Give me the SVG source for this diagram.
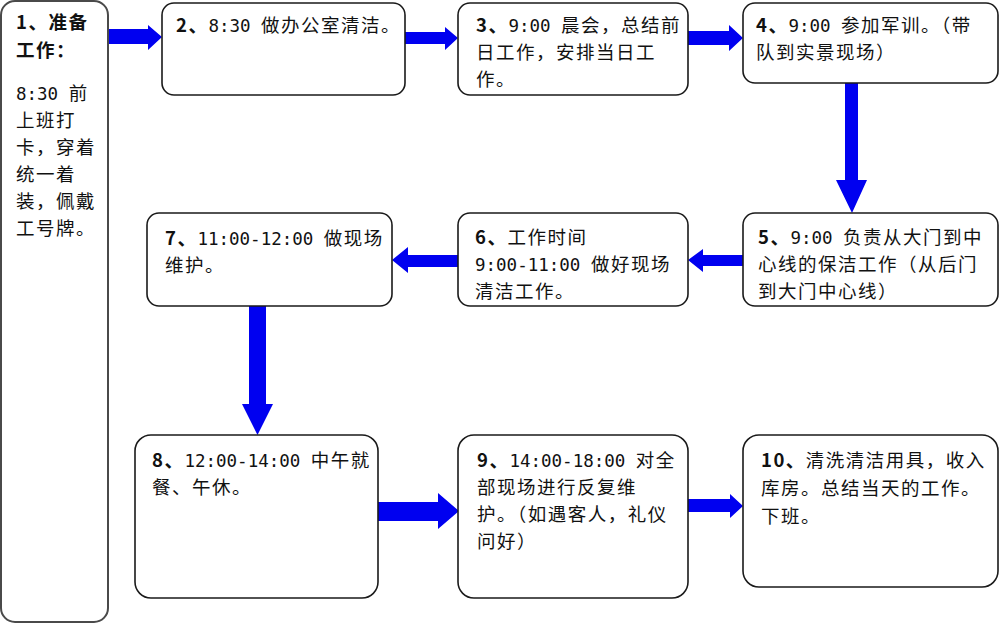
<svg xmlns="http://www.w3.org/2000/svg" width="1000" height="624" viewBox="0 0 1000 624">
<style>
.box{fill:#fff;stroke:#1a1a1a;stroke-width:1.6}
.b1{fill:#fff;stroke:#4a4a4a;stroke-width:2}
.t{font-family:"Noto Sans CJK SC","Noto Sans CJK JP",sans-serif;font-size:18.5px;letter-spacing:1.5px;fill:#111}
.d{font-family:"DejaVu Sans Mono","Liberation Mono",monospace;font-size:17.5px;letter-spacing:0}
.bd{font-weight:bold}
.arr{fill:#0000f0;stroke:none}
</style>
<rect width="1000" height="624" fill="#fff"/>
<g id="connectors">
<polygon class="arr" points="108,29 148,29 148,25 162,37 148,50 148,44 108,44"/>
<polygon class="arr" points="405,32 445,32 445,27 458,38 445,50 445,44 405,44"/>
<polygon class="arr" points="688,31 729,31 729,25 743,38 729,51 729,45 688,45"/>
<polygon class="arr" points="845,83 858,83 858,180 867,180 852,213 836,180 845,180"/>
<polygon class="arr" points="743,255 703,255 703,249 688,260 703,272 703,266 743,266"/>
<polygon class="arr" points="458,255 408,255 408,247 392,260 408,273 408,267 458,267"/>
<polygon class="arr" points="249,306 266,306 266,404 273,404 257.5,435 242,404 249,404"/>
<polygon class="arr" points="378,502 438,502 438,493 459,511 438,529 438,521 378,521"/>
<polygon class="arr" points="688,499 730,499 730,494 743,506 730,518 730,512 688,512"/>
</g>
<g id="node1">
<rect class="b1" x="1" y="1" width="107" height="621" rx="14"/>
<text class="t bd" x="16" y="29">1、准备</text>
<text class="t bd" x="16" y="57">工作：</text>
<text class="t" x="16" y="100"><tspan class="d">8:30 </tspan>前</text>
<text class="t" x="16" y="127">上班打</text>
<text class="t" x="16" y="154">卡，穿着</text>
<text class="t" x="16" y="181">统一着</text>
<text class="t" x="16" y="208">装，佩戴</text>
<text class="t" x="16" y="235">工号牌。</text>
</g>
<g id="node2">
<rect class="box" x="162" y="3" width="243" height="92" rx="12"/>
<text class="t" x="176" y="32"><tspan class="bd">2、</tspan><tspan class="d">8:30 </tspan>做办公室清洁。</text>
</g>
<g id="node3">
<rect class="box" x="458" y="3" width="230" height="92" rx="12"/>
<text class="t" x="476" y="32"><tspan class="bd">3、</tspan><tspan class="d">9:00 </tspan>晨会，总结前</text>
<text class="t" x="476" y="59">日工作，安排当日工</text>
<text class="t" x="476" y="86">作。</text>
</g>
<g id="node4">
<rect class="box" x="743" y="3" width="255" height="80" rx="12"/>
<text class="t" x="756" y="32"><tspan class="bd">4、</tspan><tspan class="d">9:00 </tspan>参加军训。（带</text>
<text class="t" x="756" y="59">队到实景现场）</text>
</g>
<g id="node5">
<rect class="box" x="743" y="213" width="255" height="93" rx="12"/>
<text class="t" x="758" y="244"><tspan class="bd">5、</tspan><tspan class="d">9:00 </tspan>负责从大门到中</text>
<text class="t" x="758" y="271">心线的保洁工作（从后门</text>
<text class="t" x="758" y="298">到大门中心线）</text>
</g>
<g id="node6">
<rect class="box" x="458" y="213" width="230" height="93" rx="12"/>
<text class="t" x="475" y="244"><tspan class="bd">6、</tspan>工作时间</text>
<text class="t" x="475" y="271"><tspan class="d">9:00-11:00 </tspan>做好现场</text>
<text class="t" x="475" y="298">清洁工作。</text>
</g>
<g id="node7">
<rect class="box" x="147" y="213" width="245" height="93" rx="12"/>
<text class="t" x="165" y="245"><tspan class="bd">7、</tspan><tspan class="d">11:00-12:00 </tspan>做现场</text>
<text class="t" x="165" y="272">维护。</text>
</g>
<g id="node8">
<rect class="box" x="135" y="435" width="243" height="163" rx="16"/>
<text class="t" x="152" y="467"><tspan class="bd">8、</tspan><tspan class="d">12:00-14:00 </tspan>中午就</text>
<text class="t" x="152" y="494">餐、午休。</text>
</g>
<g id="node9">
<rect class="box" x="458" y="435" width="230" height="163" rx="16"/>
<text class="t" x="477" y="467"><tspan class="bd">9、</tspan><tspan class="d">14:00-18:00 </tspan>对全</text>
<text class="t" x="477" y="494">部现场进行反复维</text>
<text class="t" x="477" y="521">护。（如遇客人，礼仪</text>
<text class="t" x="477" y="548">问好）</text>
</g>
<g id="node10">
<rect class="box" x="743" y="435" width="255" height="152" rx="16"/>
<text class="t" x="761" y="467"><tspan class="bd">10、</tspan>清洗清洁用具，收入</text>
<text class="t" x="761" y="495">库房。总结当天的工作。</text>
<text class="t" x="761" y="523">下班。</text>
</g>
</svg>
